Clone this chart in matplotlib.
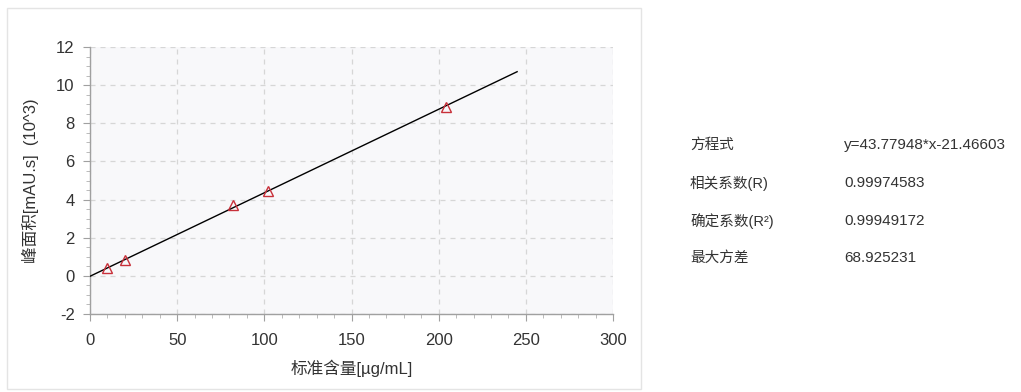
import matplotlib
matplotlib.use("Agg")
import matplotlib.pyplot as plt
from matplotlib.patches import Rectangle
from matplotlib.ticker import MultipleLocator
import numpy as np

plt.rcParams['font.family'] = ['Liberation Sans', 'Noto Sans CJK SC', 'DejaVu Sans']
plt.rcParams['axes.unicode_minus'] = False

# Data
conc = [10, 20, 82, 102, 204]           # µg/mL
area = [0.42, 0.84, 3.72, 4.47, 8.87]   # mAU.s (10^3)
slope = 43.77948
intercept = -21.46603
fit_x = [0, 245]

stat_labels = ["方程式", "相关系数(R)", "确定系数(R²)", "最大方差"]
stat_values = ["y=43.77948*x-21.46603", "0.99974583", "0.99949172", "68.925231"]

xticks = [0, 50, 100, 150, 200, 250, 300]
yticks = [-2, 0, 2, 4, 6, 8, 10, 12]

fig = plt.figure(figsize=(10.21, 3.92), dpi=100)
fig.patch.set_facecolor('white')

# panel frame
fig.add_artist(Rectangle((7/1021, 1-389/392), (641-7)/1021, (389-8)/392,
                         transform=fig.transFigure, fill=False,
                         edgecolor='#e4e4e4', linewidth=1.0))

ax = fig.add_axes([90/1021, 1-314/392, (613-90)/1021, (314-47)/392])
ax.set_facecolor('#f8f8fa')

fx = np.array(fit_x, dtype=float)
fy = (slope * fx + intercept) / 1000.0
ax.plot(fx, fy, color='black', linewidth=1.0, zorder=3)
ax.plot(conc, area, linestyle='none', marker='^', markersize=7,
        markerfacecolor='none', markeredgecolor='#c8303a', markeredgewidth=1.0, zorder=4)

ax.set_xlim(0, 300)
ax.set_ylim(-2, 12)
ax.set_xticks(xticks)
ax.set_yticks(yticks)
ax.xaxis.set_minor_locator(MultipleLocator(10))
ax.yaxis.set_minor_locator(MultipleLocator(0.5))
ax.grid(True, which='major', linestyle=(0, (4, 4)), color='#d6d6d6', linewidth=0.9)
ax.set_axisbelow(True)

for s in ['top', 'right']:
    ax.spines[s].set_visible(False)
for s in ['left', 'bottom']:
    ax.spines[s].set_color('#a0a0a0')
    ax.spines[s].set_linewidth(1.0)

ax.tick_params(axis='both', which='major', length=5, color='#a0a0a0',
               labelsize=12, labelcolor='#333333', pad=6)
ax.tick_params(axis='both', which='minor', length=3, color='#b0b0b0')
ax.tick_params(axis='x', pad=9)

ax.set_xlabel("标准含量[µg/mL]", fontsize=12, color='#333333', labelpad=8)
ax.set_ylabel("峰面积[mAU.s]  (10^3)", fontsize=12, color='#333333', labelpad=12)

# statistics table
rows_y = [145, 183, 221, 258]
for lab, val, yy in zip(stat_labels, stat_values, rows_y):
    fig.text(690/1021, 1-yy/392, lab, fontsize=10.5, color='#333333',
             va='center', ha='left', family=['Liberation Sans', 'Noto Sans CJK SC', 'DejaVu Sans'])
    fig.text(844/1021, 1-yy/392, val, fontsize=11, color='#333333',
             va='center', ha='left', family=['Liberation Sans', 'Noto Sans CJK SC', 'DejaVu Sans'])

fig.savefig("out.png", dpi=100)
